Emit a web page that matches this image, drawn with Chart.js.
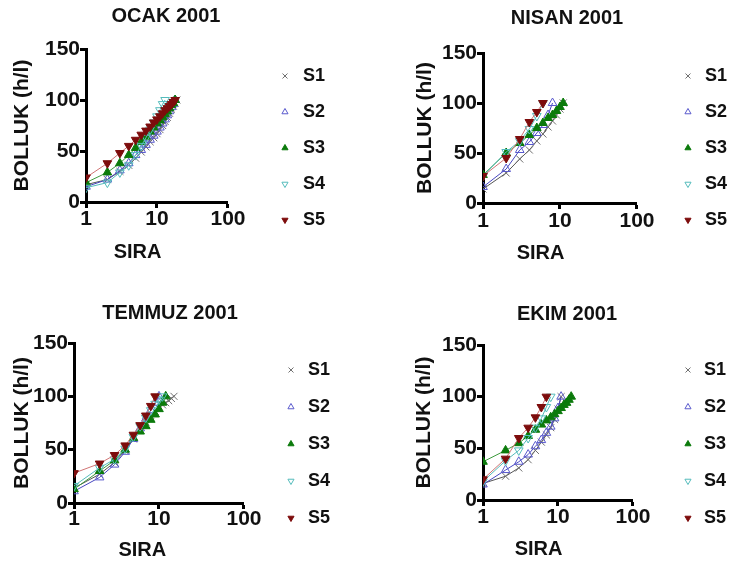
<!DOCTYPE html>
<html>
<head>
<meta charset="utf-8">
<script src="https://cdn.jsdelivr.net/npm/chart.js@4.4.1/dist/chart.umd.min.js"></script>
<style>
  html, body { margin: 0; padding: 0; background: #fff; overflow: hidden; }
  body { width: 737px; height: 561px; position: relative; }
  canvas { position: absolute; }
</style>
</head>
<body>
<canvas id="ocak"></canvas>
<canvas id="nisan"></canvas>
<canvas id="temmuz"></canvas>
<canvas id="ekim"></canvas>
<script>
// Series names, axis ticks
const seriesLabels = ['S1', 'S2', 'S3', 'S4', 'S5'];
const xTicks = [1, 10, 100];
const yTicks = [0, 50, 100, 150];

// Cumulative values by rank (rank = position + 1)
// OCAK 2001
const ocakS1 = [17, 22, 30, 36, 43, 49, 54, 59, 63, 67, 71, 75, 79, 83, 87, 91, 94, 97, 100];
const ocakS2 = [15, 22, 31, 38, 46, 51, 56, 61, 65, 69, 73, 77, 81, 85, 89, 93, 96, 100];
const ocakS3 = [19, 29, 38, 46, 53, 59, 64, 69, 73, 77, 80, 83, 86, 89, 92, 95, 97, 100];
const ocakS4 = [14, 19, 29, 36, 46, 55, 63, 71, 78, 84, 90, 96, 100];
const ocakS5 = [24, 38, 48, 55, 61, 66, 70, 74, 78, 81, 84, 87, 90, 92, 94, 96, 98, 100];

// NISAN 2001
const nisanS1 = [14, 30, 44, 53, 62, 69, 76, 82, 88, 94, 100];
const nisanS2 = [16, 34, 53, 61, 70, 78, 88, 100];
const nisanS3 = [28, 50, 60, 68, 75, 80, 85, 88, 92, 96, 100];
const nisanS4 = [27, 51, 62, 74, 87, 100];
const nisanS5 = [27, 45, 64, 81, 91, 100];

// TEMMUZ 2001
const temmuzS1 = [14, 27, 38, 49, 60, 69, 76, 82, 86, 89, 92, 94, 96, 98, 100];
const temmuzS2 = [11, 24, 36, 48, 60, 70, 79, 87, 94, 100];
const temmuzS3 = [13, 30, 40, 50, 61, 67, 72, 78, 83, 88, 94, 100];
const temmuzS4 = [16, 33, 41, 51, 62, 72, 80, 87, 93, 97, 100];
const temmuzS5 = [28, 37, 45, 54, 64, 73, 82, 91, 100];

// EKIM 2001
const ekimS1 = [16, 23, 31, 39, 48, 56, 63, 70, 78, 88, 100];
const ekimS2 = [15, 29, 37, 44, 52, 58, 65, 71, 79, 89, 100];
const ekimS3 = [37, 48, 55, 62, 68, 73, 77, 80, 83, 86, 89, 92, 94, 97, 100];
const ekimS4 = [18, 38, 48, 60, 70, 79, 90, 100];
const ekimS5 = [20, 40, 60, 70, 80, 90, 100];

// marker / line look per series
const seriesStyle = [
  { point: 'crossRot', rot: 0,   color: '#6e6e6e', fill: 'rgba(0,0,0,0)', line: '#555555' },
  { point: 'triangle', rot: 0,   color: '#5a5acd', fill: 'rgba(0,0,0,0)', line: '#4646c0' },
  { point: 'triangle', rot: 0,   color: '#0b7a0b', fill: '#0b7a0b',       line: '#3c9a3c' },
  { point: 'triangle', rot: 180, color: '#55bcbc', fill: 'rgba(0,0,0,0)', line: '#55bcbc' },
  { point: 'triangle', rot: 180, color: '#7d0c0c', fill: '#7d0c0c',       line: '#d07474' }
];

// page placement of each panel
const panels = [
  { id: 'ocak', title: 'OCAK 2001', series: [ocakS1, ocakS2, ocakS3, ocakS4, ocakS5],
    left: -3, top: 0, w: 338, h: 296, yW: 89, gap: 30, boxW: 18, legPad: 18,
    tTop: 4, tBot: 21, yTitleTop: 12.4, xH: 94, xTitleBot: 32, xTickPad: -1.5, shift: 7 },
  { id: 'nisan', title: 'NISAN 2001', series: [nisanS1, nisanS2, nisanS3, nisanS4, nisanS5],
    left: 397, top: 0, w: 340, h: 296, yW: 86, gap: 25, boxW: 16, legPad: 18,
    tTop: 6, tBot: 23, yTitleTop: 15.4, xH: 93, xTitleBot: 31, xTickPad: -0.5, shift: 7 },
  { id: 'temmuz', title: 'TEMMUZ 2001', series: [temmuzS1, temmuzS2, temmuzS3, temmuzS4, temmuzS5],
    left: 0, top: 296, w: 340, h: 296, yW: 74, gap: 20, boxW: 16, legPad: 19,
    tTop: 5.5, tBot: 17.5, yTitleTop: 9.9, xH: 89, xTitleBot: 30, xTickPad: -2, shift: 6 },
  { id: 'ekim', title: 'EKIM 2001', series: [ekimS1, ekimS2, ekimS3, ekimS4, ekimS5],
    left: 398, top: 296, w: 338, h: 296, yW: 85, gap: 29, boxW: 14, legPad: 19,
    tTop: 6.5, tBot: 18.5, yTitleTop: 13.4, xH: 92, xTitleBot: 30.5, xTickPad: -1, shift: 7 }
];

Chart.defaults.font.family = "'Liberation Sans', Arial, sans-serif";
Chart.defaults.color = '#111';

function makePanel(p) {
  const canvas = document.getElementById(p.id);
  canvas.width = p.w;
  canvas.height = p.h;
  canvas.style.left = p.left + 'px';
  canvas.style.top = p.top + 'px';
  canvas.style.width = p.w + 'px';
  canvas.style.height = p.h + 'px';

  const datasets = p.series.map((vals, i) => {
    const st = seriesStyle[i];
    return {
      label: seriesLabels[i],
      data: vals.map((v, k) => ({ x: k + 1, y: v })),
      xAxisID: 'x',
      yAxisID: 'y',
      order: seriesLabels.length - 1 - i, // S5 on top like the original
      showLine: true,
      borderColor: st.line,
      borderWidth: 1,
      pointStyle: st.point,
      pointRotation: st.rot,
      pointRadius: 5,
      pointBorderWidth: 1,
      pointBorderColor: st.color,
      pointBackgroundColor: st.fill
    };
  });

  return new Chart(canvas, {
    type: 'scatter',
    data: { datasets: datasets },
    options: {
      responsive: false,
      animation: false,
      devicePixelRatio: 1,
      layout: { padding: 0 },
      plugins: {
        title: {
          display: true,
          text: p.title,
          color: '#111',
          font: { size: 20, weight: 'bold' },
          padding: { top: p.tTop, bottom: p.tBot }
        },
        legend: {
          position: 'right',
          align: 'center',
          labels: {
            usePointStyle: true,
            boxWidth: p.boxW,
            boxHeight: 5,
            padding: p.legPad,
            color: '#111',
            font: { size: 18, weight: 'bold' },
            sort: (a, b) => a.datasetIndex - b.datasetIndex
          }
        },
        tooltip: { enabled: false }
      },
      scales: {
        x: {
          type: 'logarithmic',
          position: 'bottom',
          min: xTicks[0],
          max: xTicks[xTicks.length - 1],
          afterBuildTicks: s => { s.ticks = xTicks.map(v => ({ value: v })); },
          afterFit: s => { s.height = p.xH; },
          ticks: {
            color: '#111',
            font: { size: 21, weight: 'bold' },
            padding: p.xTickPad,
            maxRotation: 0,
            autoSkip: false,
            callback: v => String(v)
          },
          grid: { drawOnChartArea: false, drawTicks: true, tickLength: 6, tickWidth: 3, tickColor: '#000' },
          border: { display: true, width: 3, color: '#000' },
          title: {
            display: true,
            // trailing spaces nudge the centred word left, as in the original
            text: 'SIRA' + ' '.repeat(p.shift),
            color: '#111',
            font: { size: 20, weight: 'bold' },
            padding: { top: 0, bottom: p.xTitleBot }
          }
        },
        y: {
          type: 'linear',
          position: 'left',
          min: yTicks[0],
          max: yTicks[yTicks.length - 1],
          afterBuildTicks: s => { s.ticks = yTicks.map(v => ({ value: v })); },
          afterFit: s => { s.width = p.yW; },
          ticks: {
            color: '#111',
            font: { size: 21, weight: 'bold' },
            padding: 0
          },
          grid: { drawOnChartArea: false, drawTicks: true, tickLength: 6, tickWidth: 3, tickColor: '#000' },
          border: { display: true, width: 3, color: '#000' },
          title: {
            display: true,
            text: 'BOLLUK (h/l)',
            color: '#111',
            font: { size: 21, weight: 'bold' },
            padding: { top: p.yTitleTop, bottom: 0 }
          }
        },
        // empty spacer between plot and legend (hidden, but keeps its width)
        gap: {
          type: 'linear',
          position: 'right',
          display: false,
          afterFit: s => { s.width = p.gap; }
        }
      }
    }
  });
}

panels.forEach(makePanel);
</script>
</body>
</html>
